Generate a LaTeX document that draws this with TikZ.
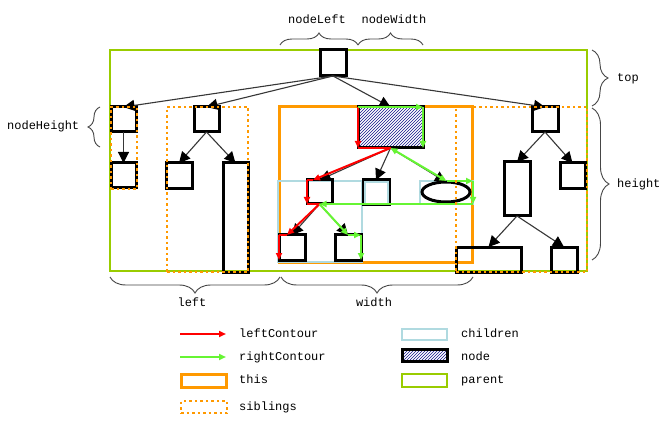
\documentclass[tikz,border=0pt]{standalone}
\usepackage{fontspec}
\setmonofont{Liberation Mono}
\usetikzlibrary{arrows.meta,patterns,decorations.pathreplacing,shapes.geometric,calc}
\definecolor{parentc}{RGB}{153,204,0}
\definecolor{thisc}{RGB}{255,153,0}
\definecolor{childc}{RGB}{176,218,224}
\definecolor{leftc}{RGB}{255,0,0}
\definecolor{rightc}{RGB}{102,245,51}
\definecolor{hatchc}{RGB}{20,20,140}
\definecolor{edgec}{RGB}{55,55,55}
\definecolor{bracec}{RGB}{70,70,70}
\newcommand\bx[6]{\node[#2,minimum width={(#5-#3)*1pt},minimum height={(#6-#4)*1pt}] (#1) at ({(#3+#5)/2},{(#4+#6)/2}) {};}
\tikzset{
  lbl/.style={inner sep=0pt,font=\ttfamily\fontsize{12}{14}\selectfont,text height=8pt,text depth=2pt},
  nbox/.style={draw=black,line width=3pt,inner sep=0pt,outer sep=0pt},
  hatchbox/.style={nbox,preaction={fill=white},pattern=north east lines,pattern color=hatchc},
  frameP/.style={draw=parentc,line width=2.5pt,inner sep=0pt,outer sep=0pt},
  frameT/.style={draw=thisc,line width=3pt,inner sep=0pt,outer sep=0pt},
  frameC/.style={draw=childc,line width=2pt,inner sep=0pt,outer sep=0pt},
  frameS/.style={draw=thisc,line width=2.5pt,dash pattern=on 2.5pt off 3pt,inner sep=0pt,outer sep=0pt},
  tedge/.style={draw=edgec,line width=1.1pt,-{Triangle[length=11pt,width=11pt,color=black]}},
  lc/.style={draw=leftc,line width=2pt},
  rc/.style={draw=rightc,line width=2pt},
  ctip/.style={-{Triangle[length=7pt,width=6pt]}},
  ctipb/.style={{Triangle[length=7pt,width=6pt]}-{Triangle[length=7pt,width=6pt]}},
  brc/.style={draw=bracec,line width=0.9pt,decorate,decoration={brace,amplitude=#1}},
}
\begin{document}
\begin{tikzpicture}[x=1pt,y=-1pt]
\useasboundingbox (0,0) rectangle (670,425);
\fill[white] (0,0) rectangle (670,425);
% frames
\bx{parent}{frameP}{110}{50}{587}{271}
\bx{this}{frameT}{279}{107}{472}{262}
\bx{chD}{frameC}{278}{181}{362}{262}
\bx{chF}{frameC}{420}{181}{473}{204}
% nodes
\bx{root}{nbox}{320}{50}{346}{76}
\bx{A}{nbox}{111}{107}{136}{132}
\bx{A2}{nbox}{111}{163}{136}{188}
\bx{B}{nbox}{194}{107}{219}{132}
\bx{B1}{nbox}{166}{163}{192}{189}
\bx{B2}{nbox}{223}{163}{248}{272}
\bx{N}{hatchbox}{358}{107}{423}{148}
\bx{D}{nbox}{307}{180}{332}{204}
\bx{E}{nbox}{363}{180}{389}{205}
\node[nbox,ellipse,minimum width=48pt,minimum height=20pt] (F) at (446,192) {};
\bx{G}{nbox}{279}{235}{305}{260}
\bx{H}{nbox}{335}{235}{361}{260}
\bx{C}{nbox}{532}{107}{558}{132}
\bx{C1}{nbox}{504}{162}{530}{216}
\bx{C2}{nbox}{560}{163}{585}{189}
\bx{C11}{nbox}{456}{247}{521}{272}
\bx{C12}{nbox}{551}{247}{577}{272}
\bx{chE}{frameC}{365}{182}{388}{204}
% tree edges
\draw[tedge] (root.south) -- (A.north);
\draw[tedge] (root.south) -- (B.north);
\draw[tedge] (root.south) -- (N.north);
\draw[tedge] (root.south) -- (C.north);
\draw[tedge] (A.south) -- (A2.north);
\draw[tedge] (B.south) -- (B1.north);
\draw[tedge] (B.south) -- (B2.north);
\draw[tedge] (N.south) -- (D.north);
\draw[tedge] (N.south) -- (E.north);
\draw[tedge] (N.south) -- (F.north);
\draw[tedge] (D.south) -- (G.north);
\draw[tedge] (D.south) -- (H.north);
\draw[tedge] (C.south) -- (C1.north);
\draw[tedge] (C.south) -- (C2.north);
\draw[tedge] (C1.south) -- (C11.north);
\draw[tedge] (C1.south) -- (C12.north);
% left contour
\coordinate (dIn) at ($(D.north west)+(6,0)$);
\coordinate (gIn) at ($(G.north west)+(8,0)$);
\draw[lc,ctip] (N.north west) -- (N.south west);
\draw[lc] (N.south west) -- (N.south);
\draw[lc,ctip] (N.south) -- (dIn);
\draw[lc] (dIn) -- (D.north west);
\draw[lc,ctip] (D.north west) -- (D.south west);
\draw[lc] (D.south west) -- (D.south);
\draw[lc,ctip] (D.south) -- (gIn);
\draw[lc] (gIn) -- (G.north west);
\draw[lc,ctip] (G.north west) -- (G.south west);
% right contour
\draw[rc,ctip] (N.north west) -- (N.north east);
\draw[rc,ctip] (N.north east) -- (N.south east);
\draw[rc,ctipb] (N.south) -- (chF.north);
\draw[rc,ctip] (chF.north) -- (chF.north east);
\draw[rc,ctip] (chF.north east) -- (chF.south east);
\draw[rc,ctip] (chF.south east) -- (D.south);
\draw[rc,ctip] (D.south) -- (H.north);
\draw[rc,ctip] (H.north) -- (H.north east);
\draw[rc,ctip] (H.north east) -- (H.south east);
% siblings
\bx{S1}{frameS}{111}{107}{137}{189}
\bx{S2}{frameS}{167}{107}{248}{272}
\bx{S3}{frameS}{456}{107}{587}{272}
% braces
\coordinate (b1a) at (280,45); \coordinate (b1b) at (358,45);
\coordinate (b2a) at (358,45); \coordinate (b2b) at (423,45);
\coordinate (b3a) at (592,50); \coordinate (b3b) at (592,106);
\coordinate (b4a) at (592,108); \coordinate (b4b) at (592,260);
\coordinate (b5a) at (100,147); \coordinate (b5b) at (100,107);
\coordinate (b6a) at (280,277); \coordinate (b6b) at (110,277);
\coordinate (b7a) at (473,277); \coordinate (b7b) at (281,277);
\draw[brc=12pt] (b1a) -- (b1b);
\draw[brc=12pt] (b2a) -- (b2b);
\draw[brc=16pt] (b3a) -- (b3b);
\draw[brc=17pt] (b4a) -- (b4b);
\draw[brc=12pt] (b5a) -- (b5b);
\draw[brc=16pt] (b6a) -- (b6b);
\draw[brc=16pt] (b7a) -- (b7b);
% labels
\node[lbl] (tNL) at (317,21) {nodeLeft};
\node[lbl] (tNW) at (394,21) {nodeWidth};
\node[lbl,anchor=west] (tTop) at (617,79) {top};
\node[lbl,anchor=west] (tH) at (617,185) {height};
\node[lbl,anchor=west] (tNH) at (7,127) {nodeHeight};
\node[lbl] (tL) at (192,303) {left};
\node[lbl] (tW) at (374,303) {width};
% legend
\coordinate (lg1a) at (180,334); \coordinate (lg1b) at (226,334);
\coordinate (lg2a) at (180,357); \coordinate (lg2b) at (226,357);
\draw[lc,ctip] (lg1a) -- (lg1b);
\draw[rc,ctip] (lg2a) -- (lg2b);
\bx{lgT}{frameT}{181}{374}{226}{387}
\bx{lgS}{frameS}{181}{401}{227}{413}
\bx{lgC}{frameC}{402}{329}{447}{340}
\bx{lgN}{hatchbox}{402}{349}{447}{361}
\bx{lgP}{frameP}{402}{374}{447}{387}
\node[lbl,anchor=west] (tLC) at (239,334) {leftContour};
\node[lbl,anchor=west] (tRC) at (239,357) {rightContour};
\node[lbl,anchor=west] (tThis) at (239,380) {this};
\node[lbl,anchor=west] (tSib) at (239,407) {siblings};
\node[lbl,anchor=west] (tCh) at (461,334) {children};
\node[lbl,anchor=west] (tNo) at (461,357) {node};
\node[lbl,anchor=west] (tPa) at (461,380) {parent};
\end{tikzpicture}
\end{document}
